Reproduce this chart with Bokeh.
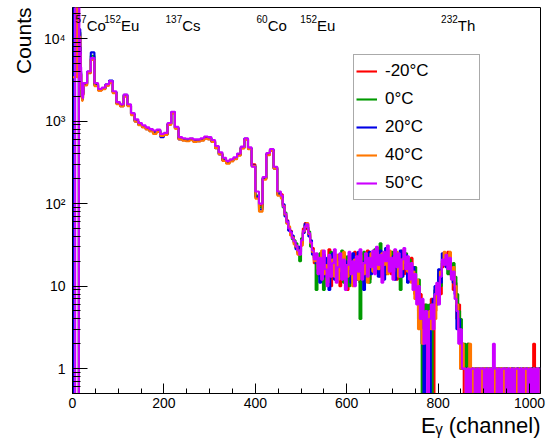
from bokeh.plotting import figure
from bokeh.models import (Range1d, FixedTicker, Legend, LegendItem, Title,
                          ColumnDataSource)
from bokeh.core.properties import value
from bokeh.embed import file_html
from bokeh.resources import INLINE

FONT = "Liberation Sans"

# ---------------- data ----------------
# channel bins: 0..24 by 1, 24..456 by 8, 456..1024 by 4
low_edges = list(range(0, 25))
mid_edges = list(range(24, 457, 8))
high_edges = list(range(456, 1025, 4))

labels = ["-20\u00b0C", "0\u00b0C", "20\u00b0C", "40\u00b0C", "50\u00b0C"]
colors = ["#ff0000", "#009a00", "#0000e6", "#ff7700", "#cc00ff"]

red_low = [0, 0, 0, 0, 0, 0, 0, 0, 0, 0, 0, 0, 0, 0,
           5000, 11000, 11500, 7000, 3700, 2500, 1950, 1800, 1900, 2100]
green_low = [0, 0, 0, 0, 0, 0, 0, 0, 0, 0, 0, 0, 0, 0,
             5500, 12500, 12000, 7000, 3800, 2500, 2000, 1850, 1950, 2150]
blue_low = [1e5, 1e5, 0, 0, 0, 0, 0, 0, 0, 0, 0, 0, 0, 0,
            5000, 12000, 13000, 8000, 4000, 2600, 2000, 1800, 1900, 2200]
orange_low = [3400, 3400, 3400, 3400, 3400, 3400, 3400, 3400, 1e5, 1e5,
              3400, 3400, 3400, 3400,
              4000, 9000, 10500, 6500, 3600, 2400, 1900, 1750, 1850, 2050]
magenta_low = [1e5, 1e5, 1e5, 1e5, 1e5, 1e5, 0, 0, 0, 0, 0, 0, 0, 0,
               1e5, 9000, 10000, 7000, 4500, 3000, 2400, 2000, 1900, 2100]

red_mid = [2750, 3800, 5600, 2750, 2350, 2450, 2700, 2950, 2200, 1620,
           1530, 2000, 1540, 1200, 1000, 900, 850, 810, 770, 730,
           760, 670, 690, 910, 1250, 820, 610, 590, 580, 600,
           570, 575, 590, 620, 610, 565, 480, 400, 330, 315,
           330, 350, 385, 470, 600, 470, 300, 120, 95, 200,
           390, 440, 270, 130]
green_mid = [2800, 3900, 6200, 2800, 2400, 2500, 2750, 3000, 2250, 1650,
             1560, 2050, 1560, 1220, 1010, 920, 860, 820, 780, 740,
             770, 680, 700, 930, 1270, 830, 620, 600, 590, 610,
             580, 580, 600, 630, 625, 575, 490, 405, 345, 320,
             335, 355, 395, 480, 610, 470, 285, 125, 90, 205,
             400, 450, 275, 135]
blue_mid = [2850, 3950, 6800, 2700, 2380, 2480, 2780, 3100, 2250, 1640,
            1520, 2080, 1550, 1210, 990, 900, 850, 800, 760, 720,
            780, 640, 690, 920, 1290, 820, 600, 585, 575, 590,
            565, 570, 585, 620, 605, 560, 470, 395, 335, 310,
            330, 350, 390, 475, 610, 460, 290, 120, 85, 200,
            395, 450, 265, 130]
orange_mid = [2700, 3850, 5500, 2650, 2330, 2430, 2680, 2900, 2180, 1600,
              1500, 1980, 1520, 1180, 980, 890, 840, 790, 750, 700,
              740, 660, 680, 900, 1240, 810, 600, 580, 570, 585,
              560, 565, 580, 610, 600, 560, 470, 395, 330, 305,
              325, 345, 380, 465, 595, 455, 285, 115, 80, 195,
              385, 435, 265, 125]
magenta_mid = [2900, 4000, 5800, 2900, 2450, 2550, 2800, 3050, 2300, 1700,
               1600, 2100, 1600, 1250, 1050, 950, 890, 840, 800, 770,
               790, 700, 720, 950, 1300, 850, 640, 620, 610, 620,
               600, 600, 620, 650, 640, 590, 500, 420, 360, 330,
               345, 365, 405, 490, 620, 480, 280, 140, 100, 210,
               410, 460, 280, 140]

red_high = [130, 96, 72, 63, 48, 47, 40, 33, 29, 25,
            30, 33, 50, 58, 49, 42, 31, 29, 19, 22,
            17, 13, 25, 11, 20, 15, 28, 10, 17, 23,
            15, 21, 10, 19, 24, 14, 9, 22, 17, 12,
            26, 14, 18, 11, 24, 16, 20, 27, 12, 21,
            16, 25, 19, 29, 13, 23, 17, 27, 20, 24,
            14, 26, 19, 12, 24, 18, 27, 14, 20, 17,
            15, 22, 13, 8, 11, 5, 8, 3, 6, 1,
            5, 2, 7, 0, 5, 9, 12, 8, 17, 24,
            19, 26, 14, 18, 9, 11, 4, 6, 2, 2,
            0, 1, 2, 1, 0, 1, 1, 0, 1, 0,
            1, 1, 0, 1, 1, 0, 1, 0, 1, 1,
            1, 0, 1, 1, 0, 1, 1, 0, 0, 1,
            1, 0, 1, 1, 0, 1, 0, 1, 2, 1,
            0, 1]
green_high = [118, 90, 78, 58, 52, 43, 37, 36, 33, 26,
              20, 38, 45, 55, 52, 46, 30, 25, 23, 9,
              19, 25, 14, 9, 21, 17, 12, 26, 15, 18,
              22, 13, 18, 27, 11, 16, 23, 10, 19, 24,
              13, 18, 21, 4, 17, 26, 14, 20, 11, 23,
              19, 28, 15, 21, 33, 17, 22, 14, 25, 18,
              26, 19, 14, 24, 20, 9, 23, 18, 25, 12,
              21, 16, 11, 17, 8, 12, 5, 0, 4, 6,
              3, 6, 0, 5, 9, 7, 14, 10, 19, 23,
              20, 14, 25, 17, 19, 13, 8, 5, 4, 2,
              2, 1, 2, 0, 1, 0, 1, 1, 0, 1,
              0, 1, 1, 0, 1, 1, 0, 1, 0, 1,
              1, 0, 1, 1, 0, 0, 1, 1, 0, 1,
              1, 0, 1, 0, 1, 1, 0, 1, 1, 0,
              0, 1]
blue_high = [122, 98, 70, 62, 47, 46, 41, 34, 28, 30,
             26, 35, 44, 57, 51, 40, 36, 24, 22, 19,
             21, 11, 18, 24, 13, 22, 9, 17, 25, 12,
             19, 24, 13, 17, 22, 12, 20, 15, 11, 25,
             18, 12, 26, 15, 20, 9, 24, 17, 26, 14,
             21, 16, 24, 13, 27, 20, 12, 29, 18, 22,
             17, 23, 12, 21, 15, 27, 13, 19, 24, 11,
             18, 13, 17, 10, 9, 4, 6, 2, 0, 3,
             5, 0, 4, 7, 10, 6, 16, 11, 25, 20,
             17, 23, 18, 13, 11, 8, 3, 4, 1, 1,
             1, 1, 0, 1, 1, 0, 0, 1, 1, 0,
             1, 0, 1, 1, 0, 1, 1, 0, 1, 0,
             0, 1, 0, 1, 1, 0, 1, 1, 0, 1,
             0, 1, 1, 0, 1, 0, 1, 1, 0, 1,
             1, 1]
orange_high = [115, 94, 74, 57, 53, 41, 39, 32, 30, 24,
               27, 31, 46, 52, 58, 43, 33, 26, 20, 23,
               16, 20, 27, 14, 18, 11, 23, 16, 21, 13,
               24, 12, 20, 15, 26, 18, 13, 21, 16, 10,
               21, 16, 12, 24, 19, 14, 22, 11, 18, 25,
               15, 22, 26, 16, 20, 25, 18, 23, 14, 27,
               20, 15, 23, 26, 13, 21, 16, 22, 19, 15,
               16, 11, 15, 7, 12, 3, 5, 2, 3, 4,
               2, 5, 3, 6, 4, 10, 9, 15, 20, 26,
               22, 18, 26, 14, 17, 10, 6, 3, 1, 2,
               1, 0, 1, 2, 0, 1, 0, 1, 1, 0,
               1, 1, 0, 1, 0, 1, 1, 0, 1, 0,
               1, 1, 0, 1, 0, 1, 0, 1, 1, 0,
               1, 0, 1, 1, 0, 1, 1, 0, 1, 0,
               1, 0]
magenta_high = [125, 92, 76, 60, 50, 45, 38, 35, 31, 27,
                24, 36, 47, 53, 56, 44, 34, 27, 21, 25,
                14, 22, 12, 27, 16, 10, 24, 13, 19, 28,
                11, 17, 25, 12, 21, 9, 18, 26, 14, 20,
                10, 23, 15, 28, 12, 19, 25, 13, 22, 17,
                27, 14, 30, 18, 24, 11, 26, 20, 31, 15,
                22, 12, 28, 17, 25, 13, 21, 29, 16, 23,
                12, 19, 9, 14, 6, 10, 4, 7, 2, 5,
                0, 4, 6, 3, 8, 11, 6, 13, 21, 18,
                24, 16, 22, 12, 15, 7, 5, 2, 3, 1,
                1, 0, 1, 0, 1, 1, 0, 1, 0, 1,
                1, 0, 1, 0, 1, 0, 2, 1, 0, 1,
                0, 1, 1, 0, 1, 0, 1, 0, 1, 1,
                0, 1, 0, 1, 1, 0, 1, 0, 1, 0,
                1, 0]

iso_mass = ["57", "152", "137", "60", "152", "232"]
iso_elem = ["Co", "Eu", "Cs", "Co", "Eu", "Th"]
iso_chan = [31, 106, 240, 427, 535, 843]

y_major = [1, 10, 100, 1000, 10000]
y_major_text = ["1", "10", "10\u00b2", "10\u00b3", "10\u2074"]
x_major = [0, 200, 400, 600, 800, 1000]

# ---------------- figure ----------------
p = figure(width=553, height=444, y_axis_type="log",
           x_range=Range1d(0, 1024), y_range=Range1d(0.5, 23800),
           output_backend="svg", toolbar_location=None,
           min_border_left=72, min_border_right=13,
           min_border_top=7, min_border_bottom=51)
p.background_fill_color = "white"
p.border_fill_color = "white"
p.outline_line_color = "black"
p.outline_line_width = 1
p.xgrid.visible = False
p.ygrid.visible = False

FLOOR = 0.05


def stairs(edges, vals):
    xs, ys = [], []
    for i, v in enumerate(vals):
        y = v if v > 0 else FLOOR
        xs += [edges[i], edges[i + 1]]
        ys += [y, y]
    return xs, ys


series = [(red_low, red_mid, red_high),
          (green_low, green_mid, green_high),
          (blue_low, blue_mid, blue_high),
          (orange_low, orange_mid, orange_high),
          (magenta_low, magenta_mid, magenta_high)]

data_renderers = []
for (lo, mi, hi), col in zip(series, colors):
    xa1, ya1 = stairs(low_edges, lo)
    xa2, ya2 = stairs(mid_edges, mi)
    xa3, ya3 = stairs(high_edges, hi)
    r = p.line(xa1 + xa2 + xa3, ya1 + ya2 + ya3, line_color=col,
               line_width=2.1)
    data_renderers.append(r)

legend = Legend(items=[LegendItem(label=l, renderers=[r])
                       for l, r in zip(labels, data_renderers)],
                location=(281, 193), orientation="vertical",
                padding=2, spacing=0, margin=0,
                glyph_width=21, glyph_height=28, label_height=28,
                label_width=92, label_standoff=8,
                label_text_font=FONT, label_text_font_size="17px",
                label_text_color="black",
                border_line_color="#555555", border_line_width=1,
                background_fill_color="white", background_fill_alpha=1.0)
p.add_layout(legend)

# axes
xa = p.xaxis[0]
xa.ticker = FixedTicker(ticks=x_major,
                        minor_ticks=list(range(0, 1025, 50)))
xa.major_tick_in = 10
xa.major_tick_out = 0
xa.minor_tick_in = 5
xa.minor_tick_out = 0
xa.major_label_standoff = 4
xa.major_label_text_font = FONT
xa.major_label_text_font_size = "14px"
xa.major_label_text_color = "black"
xa.axis_line_color = "black"
xa.major_tick_line_color = "black"
xa.minor_tick_line_color = "black"

ya = p.yaxis[0]
minor_y = []
for d in [0.1, 1, 10, 100, 1000, 10000]:
    for k in range(2, 10):
        minor_y.append(d * k)
ya.ticker = FixedTicker(ticks=y_major, minor_ticks=minor_y)
ya.major_label_overrides = {float(v): t for v, t in zip(y_major, y_major_text)}
ya.major_tick_in = 15
ya.major_tick_out = 0
ya.minor_tick_in = 8
ya.minor_tick_out = 0
ya.major_label_standoff = 7
ya.major_label_text_font = FONT
ya.major_label_text_font_size = "14px"
ya.major_label_text_color = "black"
ya.axis_line_color = "black"
ya.major_tick_line_color = "black"
ya.minor_tick_line_color = "black"

# isotope annotations
src = ColumnDataSource(dict(x=iso_chan, mass=iso_mass, elem=iso_elem,
                            y=[14400] * len(iso_chan)))
p.text(x="x", y="y", text="elem", source=src, text_font=value(FONT),
       text_font_size="15px", text_align="left",
       text_baseline="alphabetic", text_color="black")
p.text(x="x", y="y", text="mass", source=src, text_font=value(FONT),
       text_font_size="10px", text_align="right", y_offset=-7,
       text_baseline="alphabetic", text_color="black")

# axis titles (ROOT style: aligned to the axis end)
p.add_layout(Title(text="Counts", align="right", text_font=FONT,
                   text_font_size="21px", text_font_style="normal",
                   text_color="black", standoff=11), "left")
p.add_layout(Title(text="E\u1d67 (channel)", align="right", text_font=FONT,
                   text_font_size="22px", text_font_style="normal",
                   text_color="black", standoff=0), "below")

open("out.html", "w").write(file_html(p, INLINE))
